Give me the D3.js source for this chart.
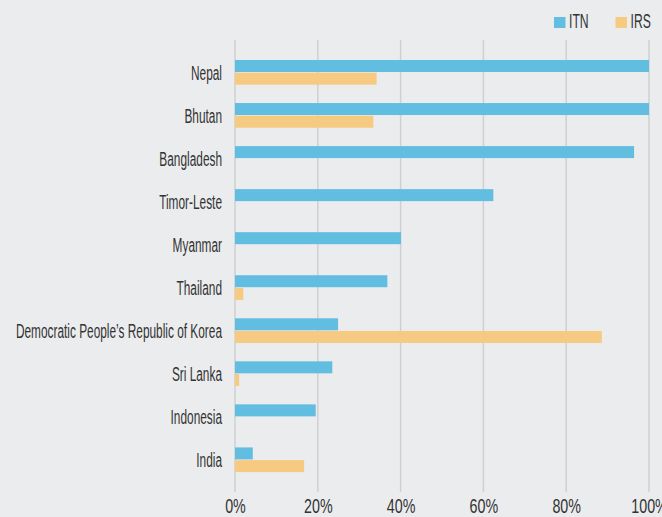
<!DOCTYPE html>
<html>
<head>
<meta charset="utf-8">
<script src="https://cdn.jsdelivr.net/npm/d3@7"></script>
<style>
  html, body { margin: 0; padding: 0; background: #ebecee; }
  svg { display: block; }
  text { font-family: "Liberation Sans Narrow", "Liberation Sans", sans-serif; fill: #333; }
</style>
</head>
<body>
<svg id="chart" width="662" height="517"></svg>
<script>
const categories = ["Nepal", "Bhutan", "Bangladesh", "Timor-Leste", "Myanmar", "Thailand",
  "Democratic People\u2019s Republic of Korea", "Sri Lanka", "Indonesia", "India"];
const itnValues = [100, 100, 96.4, 62.4, 40.1, 36.8, 24.9, 23.5, 19.5, 4.3];
const irsValues = [34.2, 33.4, null, null, null, 2.0, 88.6, 1.0, null, 16.7];
const tickValues = [0, 20, 40, 60, 80, 100];
const seriesNames = ["ITN", "IRS"];
const seriesColors = ["#62bee0", "#f6ca80"];

(function () {
const W = 662, H = 517;
const mLeft = 235, mRight = 649, mTop = 40, mBottom = 492;
const SX_LABEL = 0.565, SX_TICK = 0.68, SX_LEG = 0.58; // compression to mimic a condensed face
const FS = 21;
const FONT = '"Liberation Sans Narrow", "Liberation Sans", sans-serif';

const svg = d3.select("#chart");
svg.append("rect").attr("width", W).attr("height", H).attr("fill", "#ebecee");

const x = d3.scaleLinear().domain([0, 100]).range([mLeft, mRight]);
const y = d3.scalePoint().domain(categories).range([mTop, mBottom]).padding(0.75);

// gridlines
svg.append("g").selectAll("line").data(tickValues).join("line")
  .attr("x1", d => x(d)).attr("x2", d => x(d))
  .attr("y1", mTop).attr("y2", mBottom)
  .attr("stroke", "#cfd0d2").attr("stroke-width", 1.5);

const barH = 12;
const rows = categories.map((c, i) => ({ c, itn: itnValues[i], irs: irsValues[i] }));

svg.append("g").selectAll("rect").data(rows.filter(d => d.itn != null)).join("rect")
  .attr("x", x(0)).attr("y", d => y(d.c) - barH - 0.3)
  .attr("width", d => x(d.itn) - x(0)).attr("height", barH)
  .attr("fill", seriesColors[0]);

svg.append("g").selectAll("rect").data(rows.filter(d => d.irs != null)).join("rect")
  .attr("x", x(0)).attr("y", d => y(d.c) + 0.4)
  .attr("width", d => x(d.irs) - x(0)).attr("height", barH)
  .attr("fill", seriesColors[1]);

// category labels
const yAxis = svg.append("g").attr("transform", `translate(222,0)`)
  .call(d3.axisLeft(y).tickSize(0).tickPadding(0));
yAxis.select(".domain").remove();
yAxis.selectAll("text")
  .attr("font-size", FS).attr("fill", "#333")
  .style("font-family", FONT)
  .attr("transform", `scale(${SX_LABEL},1)`);

// x axis
const xAxis = svg.append("g").attr("transform", `translate(0,${mBottom})`)
  .call(d3.axisBottom(x).tickValues(tickValues).tickFormat(d => d + "%").tickSize(0).tickPadding(6));
xAxis.select(".domain").remove();
xAxis.selectAll("text")
  .attr("font-size", FS).attr("fill", "#333")
  .style("font-family", FONT)
  .attr("transform", `scale(${SX_TICK},1)`);

// legend
const legendX = [554, 615.5];
const lg = svg.append("g").selectAll("g").data(seriesNames).join("g")
  .attr("transform", (d, i) => `translate(${legendX[i]},17)`);
lg.append("rect").attr("width", 11.5).attr("height", 11).attr("fill", (d, i) => seriesColors[i]);
lg.append("text").attr("font-size", FS).attr("y", 11)
  .style("font-family", FONT)
  .attr("transform", `translate(15,0) scale(${SX_LEG},1)`)
  .text(d => d);
})();
</script>
</body>
</html>
